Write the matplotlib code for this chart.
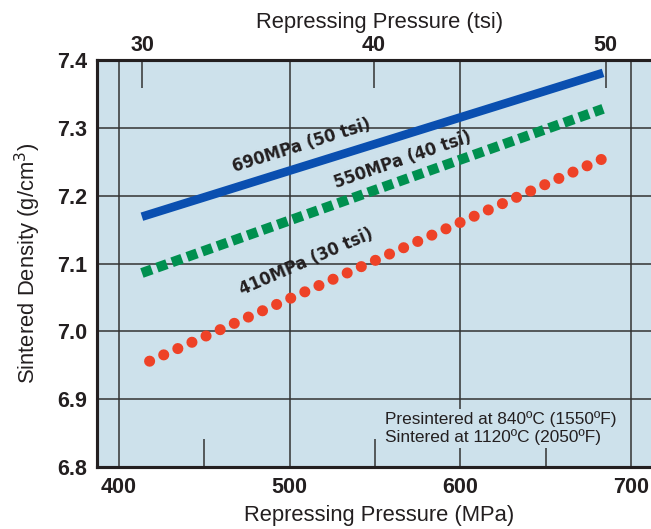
import matplotlib
matplotlib.use("Agg")
import matplotlib.pyplot as plt
from matplotlib import font_manager
from matplotlib.ticker import FixedLocator

# datos
presion_mpa = [413.5, 683.5]          # extremos de cada curva (MPa)
presion_rojo = [418.0, 683.0]
dens_690 = [7.169, 7.381]
dens_550 = [7.086, 7.328]
dens_410 = [6.956, 7.254]

ticks_mpa = [400, 500, 600, 700]
ticks_menores = [450, 550, 650]
ticks_tsi = [30, 40, 50]
pos_tsi = [413.7, 549.4, 685.0]       # posicion de los ticks tsi en MPa
ticks_y = [6.8, 6.9, 7.0, 7.1, 7.2, 7.3, 7.4]

etiquetas = ["690MPa (50 tsi)", "550MPa (40 tsi)", "410MPa (30 tsi)"]

fondo = "#cde1eb"
azul = "#0a4fb0"
verde = "#00904f"
rojo = "#ee4227"
tinta = "#231f20"

plt.rcParams["font.family"] = ["Liberation Sans", "DejaVu Sans"]

# fuente condensada para las etiquetas de las curvas, si hay alguna
estrecha = None
for f in font_manager.fontManager.ttflist:
    if "Narrow" in f.name or (f.name == "DejaVu Sans" and str(f.stretch) == "condensed"):
        estrecha = f
        break
if estrecha is not None:
    fuente_curva = dict(family=[estrecha.name, "DejaVu Sans"], stretch=estrecha.stretch,
                        fontsize=13)
else:
    fuente_curva = dict(family=["Liberation Sans", "DejaVu Sans"], fontsize=14)

fig = plt.figure(figsize=(6.51, 5.29), dpi=100)
ax = fig.add_axes([97 / 651, (529 - 467) / 529, (662 - 97) / 651, (467 - 60) / 529])
ax.set_facecolor(fondo)
ax.set_xlim(387.2, 718.0)
ax.set_ylim(6.8, 7.4)

ax.grid(True, color="#333333", linewidth=1.1)
ax.set_axisbelow(True)

ax.plot(presion_mpa, dens_690, color=azul, linewidth=6.2, solid_capstyle="butt")
ax.plot(presion_mpa, dens_550, color=verde, linewidth=7.2,
        linestyle=(0, (1.05, 0.55)), dash_capstyle="butt")
ax.plot(presion_rojo, dens_410, color=rojo, linewidth=8.0,
        linestyle=(0, (0.001, 1.39)), dash_capstyle="round")

fuente_b = dict(fontweight="bold", color=tinta, **fuente_curva)
ax.text(507, 7.274, etiquetas[0], rotation=17.5, ha="center", va="center", **fuente_b)
ax.text(566, 7.252, etiquetas[1], rotation=19, ha="center", va="center", **fuente_b)
ax.text(510, 7.103, etiquetas[2], rotation=23.5, ha="center", va="center", **fuente_b)

ax.text(556, 6.857, "Presintered at 840ºC (1550ºF)\nSintered at 1120ºC (2050ºF)",
        fontsize=12.4, color=tinta, ha="left", va="center", linespacing=1.15,
        bbox=dict(facecolor=fondo, edgecolor="none", pad=2))

ax.set_xticks(ticks_mpa)
ax.set_yticks(ticks_y)
ax.set_yticklabels([f"{v:.1f}" for v in ticks_y])
ax.xaxis.set_minor_locator(FixedLocator(ticks_menores))
ax.tick_params(axis="both", which="major", length=0, labelsize=15.5, pad=7,
               labelcolor=tinta)
ax.tick_params(axis="x", which="minor", direction="in", length=20, width=1.1, color="#333333")
for lab in ax.get_xticklabels() + ax.get_yticklabels():
    lab.set_fontweight("bold")
ax.set_xlabel("Repressing Pressure (MPa)", fontsize=15.8, labelpad=5, color=tinta)
ax.set_ylabel("Sintered Density (g/cm$^3$)", fontsize=15.8, labelpad=10, color=tinta)

for s in ax.spines.values():
    s.set_linewidth(2.2)
    s.set_color(tinta)

arriba = ax.twiny()
arriba.set_xlim(ax.get_xlim())
arriba.set_xticks(pos_tsi)
arriba.set_xticklabels([str(t) for t in ticks_tsi], fontweight="bold", fontsize=15.5,
                       color=tinta)
arriba.tick_params(axis="x", direction="in", length=20, width=1.1, color="#333333", pad=3)
arriba.set_xlabel("Repressing Pressure (tsi)", fontsize=15.8, labelpad=5, color=tinta)
for s in arriba.spines.values():
    s.set_linewidth(2.2)
    s.set_color(tinta)

fig.savefig("out.png", dpi=100)
